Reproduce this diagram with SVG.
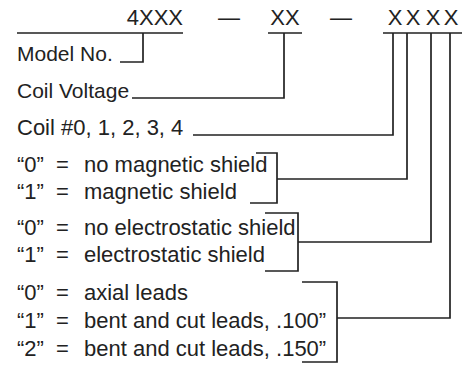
<svg xmlns="http://www.w3.org/2000/svg" width="471" height="365" viewBox="0 0 471 365">
<style>
text{font-family:"Liberation Sans",Arial,sans-serif;font-size:22px;fill:#222}
.s{font-size:21px}
.m{text-anchor:middle}
.e{text-anchor:end}
#connectors path{fill:none;stroke:#222;stroke-width:1.7}
</style>
<rect width="471" height="365" fill="#fff"/>
<g id="header">
<text class="e" x="183" y="25">4XXX</text>
<text class="m" x="229" y="25">—</text>
<text class="m" x="285" y="25">XX</text>
<text class="m" x="341" y="25">—</text>
<text class="m" x="395" y="25">X</text>
<text class="m" x="413" y="25">X</text>
<text class="m" x="433" y="25">X</text>
<text class="m" x="451" y="25">X</text>
</g>
<g id="model"><text class="s" x="17" y="61">Model No.</text></g>
<g id="voltage"><text class="s" x="17" y="98">Coil Voltage</text></g>
<g id="coil"><text x="17" y="135">Coil #0, 1, 2, 3, 4</text></g>
<g id="magnetic">
<text y="172"><tspan x="17">“0”</tspan><tspan x="56">=</tspan><tspan x="84">no magnetic shield</tspan></text>
<text y="199"><tspan x="17">“1”</tspan><tspan x="56">=</tspan><tspan x="84">magnetic shield</tspan></text>
</g>
<g id="electrostatic">
<text y="235"><tspan x="17">“0”</tspan><tspan x="56">=</tspan><tspan x="84">no electrostatic shield</tspan></text>
<text y="262"><tspan x="17">“1”</tspan><tspan x="56">=</tspan><tspan x="84">electrostatic shield</tspan></text>
</g>
<g id="leads">
<text y="300"><tspan x="17">“0”</tspan><tspan x="56">=</tspan><tspan x="84">axial leads</tspan></text>
<text y="328"><tspan x="17">“1”</tspan><tspan x="56">=</tspan><tspan x="84">bent and cut leads, .100”</tspan></text>
<text y="356"><tspan x="17">“2”</tspan><tspan x="56">=</tspan><tspan x="84">bent and cut leads, .150”</tspan></text>
</g>
<g id="connectors">
<path d="M17 33H183M268 33H302M383 33H462"/>
<path d="M143 33V62H120"/>
<path d="M284 33V98H132"/>
<path d="M393 33V135H193"/>
<path d="M256 153H277V203H250M277 179H407V33"/>
<path d="M265 213H298V271H265M298 242H431V33"/>
<path d="M302 282H337V362H302M337 318H450V33"/>
</g>
</svg>
